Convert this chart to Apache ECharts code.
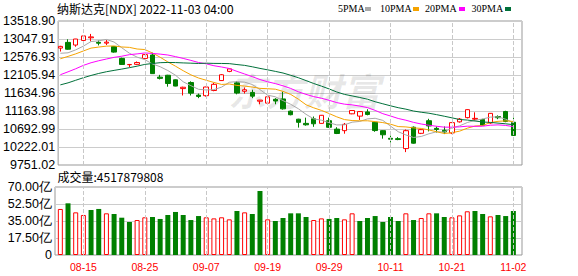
<!DOCTYPE html>
<html><head><meta charset="utf-8">
<script src="https://cdn.jsdelivr.net/npm/echarts/dist/echarts.min.js"></script>
<style>html,body{margin:0;padding:0;background:#fff}#c{width:578px;height:276px}</style>
</head><body><div id="c"></div>
<script>
const dates = ['08-10','08-11','08-12','08-15','08-16','08-17','08-18','08-19','08-22','08-23','08-24','08-25','08-26','08-29','08-30','08-31','09-01','09-02','09-06','09-07','09-08','09-09','09-12','09-13','09-14','09-15','09-16','09-19','09-20','09-21','09-22','09-23','09-26','09-27','09-28','09-29','09-30','10-03','10-04','10-05','10-06','10-07','10-10','10-11','10-12','10-13','10-14','10-17','10-18','10-19','10-20','10-21','10-24','10-25','10-26','10-27','10-28','10-31','11-01','11-02'];
const opens  = [12810,12960,12890,13010,13080,12960,12940,12850,12540,12375,12385,12540,12630,12050,12100,11980,11750,11910,11580,11565,11700,11960,12200,11900,11680,11650,11420,11370,11470,11480,11160,10950,10840,10960,10840,10910,10690,10650,11090,11030,11140,10870,10650,10450,10440,10180,10740,10580,10910,10710,10660,10590,10880,10990,10950,10940,10850,11020,11150,10870];
const closes = [12854.80,12779.91,13047.19,13128.05,13102.55,12938.12,12965.34,12705.22,12381.57,12381.30,12431.53,12639.27,12141.71,12017.67,11883.14,11816.20,11785.13,11630.86,11544.91,11791.90,11862.13,12112.31,12266.41,11633.57,11719.68,11552.36,11448.40,11535.02,11425.05,11220.19,11066.81,10867.93,10802.92,10829.50,11051.64,10737.51,10575.62,10815.43,11176.41,11148.64,11073.31,10652.41,10542.10,10426.19,10417.10,10649.15,10321.39,10675.80,10772.40,10680.51,10614.84,10859.72,10952.61,11199.12,10970.99,10792.68,11102.45,10988.15,10890.85,10524.80];
const lows   = [12720,12765,12845,12985,12985,12880,12890,12690,12370,12310,12370,12530,12140,11990,11800,11810,11570,11570,11500,11540,11680,11950,12180,11600,11620,11500,11340,11360,11340,11200,11050,10730,10780,10750,10830,10720,10560,10570,11080,10930,11050,10620,10440,10340,10400,10088,10310,10560,10630,10600,10560,10560,10860,10970,10900,10780,10830,10950,10870,10520];
const highs  = [12870,13040,13050,13135,13181,13010,13020,12860,12560,12395,12460,12650,12690,12110,12110,11990,11800,11940,11620,11800,11900,12130,12270,11950,11780,11720,11455,11540,11500,11670,11180,10960,10990,11020,11060,10990,10740,10850,11180,11160,11210,10880,10660,10520,10480,10680,10760,10690,10960,10760,10760,10870,10980,11210,11130,10960,11110,11050,11170,10990];
const prevClose = 12493.93;
const ma5  = [12674.26,12686.13,12764.06,12860.78,12982.50,12999.16,13036.25,12967.86,12818.56,12674.31,12572.99,12507.78,12395.08,12322.30,12222.66,12099.60,11928.77,11826.60,11732.05,11713.80,11722.99,11788.42,11915.53,11933.26,11918.82,11856.87,11724.08,11577.81,11536.10,11436.20,11339.09,11223.00,11076.58,10957.47,10923.76,10857.90,10799.44,10801.94,10871.32,10890.72,10957.88,10973.24,10918.57,10768.53,10622.22,10537.39,10471.19,10497.93,10567.17,10619.85,10612.99,10720.65,10776.02,10861.36,10919.46,10955.02,11003.57,11010.68,10949.02,10859.79];
const ma10 = [12531.05,12592.78,12658.43,12734.34,12809.72,12836.71,12861.19,12865.96,12839.67,12828.41,12786.08,12772.01,12681.47,12570.43,12448.49,12336.30,12218.27,12110.84,12027.17,11968.23,11911.29,11858.60,11871.07,11832.66,11816.31,11789.93,11756.25,11746.67,11734.68,11677.51,11597.98,11473.54,11327.19,11246.79,11179.98,11098.50,11011.22,10939.26,10914.40,10907.24,10907.89,10886.34,10860.26,10819.93,10756.47,10747.64,10722.21,10708.25,10667.85,10621.04,10575.19,10595.92,10636.97,10714.26,10769.65,10784.01,10862.11,10893.35,10905.19,10889.62];
const ma20 = [12112.82,12189.25,12268.99,12357.39,12426.86,12478.89,12524.17,12567.73,12597.67,12638.61,12658.56,12682.40,12669.95,12652.38,12629.10,12586.50,12539.73,12488.40,12433.42,12398.32,12348.69,12315.31,12276.27,12201.54,12132.40,12063.11,11987.26,11928.75,11880.93,11822.87,11754.64,11666.07,11599.13,11539.72,11498.15,11444.21,11383.74,11342.96,11324.54,11292.38,11252.94,11179.94,11093.73,11033.36,10968.23,10923.07,10866.72,10823.76,10791.12,10764.14,10741.54,10741.13,10748.61,10767.10,10763.06,10765.82,10792.16,10800.80,10786.52,10755.33];
const ma30 = [11847.22,11900.62,11967.90,12034.57,12093.92,12146.46,12191.26,12226.92,12260.55,12297.77,12337.24,12383.51,12406.48,12428.40,12434.07,12431.36,12422.21,12415.43,12407.51,12415.15,12409.47,12407.80,12403.65,12379.14,12358.17,12320.98,12278.57,12241.15,12200.51,12158.05,12098.45,12034.72,11959.91,11883.29,11814.93,11741.57,11661.92,11598.92,11558.75,11517.66,11472.39,11406.16,11352.84,11299.79,11250.92,11212.02,11163.23,11131.39,11105.64,11068.60,11027.02,10985.27,10941.47,10926.99,10902.04,10876.71,10865.18,10846.95,10829.15,10805.97];
const volumes = [47.4,53.2,43.9,41.2,46.3,47.4,42.9,42.2,38.4,34.0,36.0,38.8,39.1,37.1,41.2,44.3,41.2,36.0,40.1,38.8,37.7,38.8,36.7,45.3,43.9,42.2,65.9,36.7,35.0,38.1,42.9,42.9,39.1,36.0,37.7,37.1,38.1,36.7,42.9,35.0,38.1,40.1,34.0,39.1,35.0,42.9,36.0,38.1,42.9,42.9,39.1,38.8,40.8,45.0,45.3,42.2,39.8,41.2,40.1,45.18];
const priceTicks = ['9751.02','10222.01','10692.99','11163.98','11634.96','12105.94','12576.93','13047.91','13518.90'];
const volTicks = ['0','17.50亿','35.00亿','52.50亿','70.00亿'];
const labelDates = ['08-15','08-25','09-07','09-19','09-29','10-11','10-21','11-02'];
const maNames = ['5PMA','10PMA','20PMA','30PMA'];
const maColors = ['#a8a8a8','#f5a300','#ff00ff','#00703a'];
const priceMin = 9751.02, priceMax = 13518.90, volMax = 70;
const titleText = '纳斯达克[NDX] 2022-11-03 04:00';
const volText = '成交量:4517879808';

const RED = '#ff0000', GREEN = '#008000';
const candleData = dates.map((d, i) => [opens[i], closes[i], lows[i], highs[i]]);
const volData = volumes.map((v, i) => {
  const up = closes[i] >= (i ? closes[i - 1] : prevClose);
  return { value: v, itemStyle: up ? { color: '#fff', borderColor: RED, borderWidth: 1 } : { color: GREEN } };
});

const chart = echarts.init(document.getElementById('c'), null, { renderer: 'svg' });
const FL = 55, FW = 467, DL = 56.5, DW = 460.7;
const axisFont = 'Liberation Sans';
const dashed = { type: 'dashed', color: '#c8c8c8', width: 1 };

const legendPos = [[338, 365], [380, 413], [425, 459], [471.5, 505]];
const graphics = [
  { type: 'text', left: 228, top: 70, z: 1, silent: true,
    style: { text: '东方财富', fill: 'rgba(0,0,0,0.09)', font: 'italic bold 38px "Noto Sans CJK SC"' } },
  { type: 'text', left: 57.5, top: 170, style: { text: volText, fill: '#000', font: '12px "Noto Sans CJK SC"' } }
];
maNames.forEach((n, k) => {
  graphics.push({ type: 'text', left: legendPos[k][0], top: 3, style: { text: n, fill: '#000', font: '10px "Liberation Serif"' } });
  graphics.push({ type: 'rect', shape: { x: legendPos[k][1], y: 7, width: 6, height: 4 }, style: { fill: maColors[k] } });
});

const option = {
  animation: false,
  backgroundColor: '#fff',
  title: { text: titleText, left: 57, top: 0, padding: 0,
    textStyle: { fontSize: 12, fontWeight: 'normal', color: '#000', fontFamily: 'Noto Sans CJK SC', lineHeight: 16 } },
  grid: [
    { left: FL, top: 21, width: FW, height: 144, show: true, borderColor: '#999', borderWidth: 1, backgroundColor: 'transparent' },
    { left: DL, top: 21, width: DW, height: 144 },
    { left: FL, top: 187, width: FW, height: 68, show: true, borderColor: '#999', borderWidth: 1, backgroundColor: 'transparent' },
    { left: DL, top: 187, width: DW, height: 68 }
  ],
  xAxis: [
    { gridIndex: 0, type: 'value', min: 0, max: 1, show: false },
    { gridIndex: 1, type: 'category', data: dates, boundaryGap: true, axisLine: { show: false }, axisTick: { show: false }, axisLabel: { show: false }, splitLine: { show: false } },
    { gridIndex: 2, type: 'value', min: 0, max: 1, show: false },
    { gridIndex: 3, type: 'category', data: dates, boundaryGap: true, axisLine: { show: false }, axisTick: { show: false }, splitLine: { show: false },
      axisLabel: { show: true, interval: (i, v) => labelDates.includes(v), color: RED, fontSize: 10.5, fontFamily: axisFont, margin: 6 } }
  ],
  yAxis: [
    { gridIndex: 0, type: 'value', min: 0, max: priceTicks.length - 1, interval: 1, axisLine: { show: false }, axisTick: { show: false },
      axisLabel: { formatter: v => priceTicks[Math.round(v)], color: '#000', fontSize: 12.5, fontFamily: axisFont, margin: 3 },
      splitLine: { show: true, lineStyle: { color: '#cccccc', width: 1 } } },
    { gridIndex: 1, type: 'value', min: priceMin, max: priceMax, show: false, splitLine: { show: false } },
    { gridIndex: 2, type: 'value', min: 0, max: volTicks.length - 1, interval: 1, axisLine: { show: false }, axisTick: { show: false },
      axisLabel: { formatter: v => volTicks[Math.round(v)], color: '#000', fontSize: 12.5, fontFamily: axisFont, margin: 3 },
      splitLine: { show: true, lineStyle: { color: '#cccccc', width: 1 } } },
    { gridIndex: 3, type: 'value', min: 0, max: volMax, show: false, splitLine: { show: false } }
  ],
  graphic: graphics,
  series: [
    { type: 'line', xAxisIndex: 1, yAxisIndex: 1, data: [], z: 1, silent: true,
      markLine: { silent: true, symbol: 'none', label: { show: false }, lineStyle: dashed, data: labelDates.map(d => ({ xAxis: d })) } },
    { type: 'line', xAxisIndex: 3, yAxisIndex: 3, data: [], z: 1, silent: true,
      markLine: { silent: true, symbol: 'none', label: { show: false }, lineStyle: dashed, data: labelDates.map(d => ({ xAxis: d })) } },
    { name: 'K', type: 'candlestick', xAxisIndex: 1, yAxisIndex: 1, data: candleData, barWidth: 5, z: 3,
      itemStyle: { color: '#fff', color0: GREEN, borderColor: RED, borderColor0: GREEN, borderWidth: 1 } },
    ...[ma5, ma10, ma20, ma30].map((arr, k) => ({
      name: maNames[k], type: 'line', xAxisIndex: 1, yAxisIndex: 1, data: arr, z: 4,
      symbol: 'none', smooth: false, lineStyle: { color: maColors[k], width: 1 }, itemStyle: { color: maColors[k] } })),
    { name: 'VOL', type: 'bar', xAxisIndex: 3, yAxisIndex: 3, data: volData, barWidth: 5, z: 3 }
  ]
};
chart.setOption(option);
</script></body></html>
